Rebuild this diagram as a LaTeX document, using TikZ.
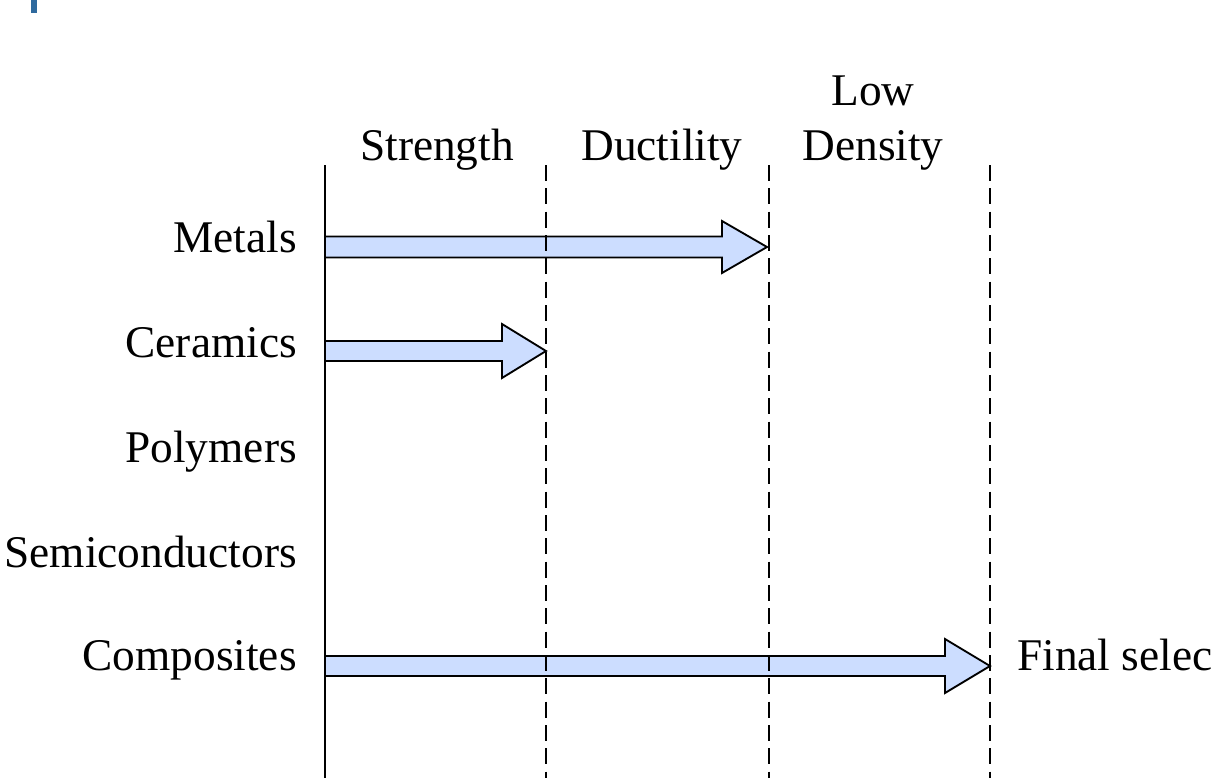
\documentclass[tikz,border=0pt]{standalone}
\usepackage{fontspec}
\setmainfont{Liberation Serif}
\definecolor{arrowfill}{HTML}{CCDDFF}
\definecolor{markblue}{HTML}{2F6A9E}
\tikzset{
  lbl/.style={inner sep=0pt, font=\fontsize{34}{40}\selectfont},
  rowlbl/.style={lbl, anchor=base east},
  hdr/.style={lbl, anchor=base},
  axis/.style={line width=1.5pt},
  divider/.style={line width=1.5pt, dash pattern=on 12pt off 5.5pt},
  blockarrow/.style={draw=black, line width=1.4pt, fill=arrowfill, line join=miter}
}
\begin{document}
\begin{tikzpicture}[x=0.75pt, y=-0.75pt]
\useasboundingbox (0,0) rectangle (1213,778);
% top-left mark
\fill[markblue] (31,0) rectangle (37,13);
% vertical lines
\coordinate (a0) at (325,165); \coordinate (a1) at (325,778);
\coordinate (d1a) at (546,165); \coordinate (d1b) at (546,778);
\coordinate (d2a) at (769,165); \coordinate (d2b) at (769,778);
\coordinate (d3a) at (990,165); \coordinate (d3b) at (990,778);
% arrows (drawn below the lines)
\draw[blockarrow] (325,236.5) -- (722,236.5) -- (722,221) -- (767,247) -- (722,273) -- (722,257.5) -- (325,257.5) -- cycle;
\draw[blockarrow] (325,341) -- (502,341) -- (502,324) -- (546,351) -- (502,378) -- (502,361) -- (325,361) -- cycle;
\draw[blockarrow] (325,656) -- (945,656) -- (945,639) -- (990,666) -- (945,693) -- (945,676) -- (325,676) -- cycle;
\draw[axis] (a0) -- (a1);
\draw[divider] (d1a) -- (d1b);
\draw[divider] (d2a) -- (d2b);
\draw[divider] (d3a) -- (d3b);
% headers
\node[hdr] (strength) at (437,160) {Strength};
\node[hdr] (ductility) at (662,160) {Ductility};
\node[hdr] (low) at (873,105) {Low};
\node[hdr] (density) at (873,160) {Density};
% row labels
\node[rowlbl] (metals) at (297,252) {Metals};
\node[rowlbl] (ceramics) at (297,357) {Ceramics};
\node[rowlbl] (polymers) at (297,462) {Polymers};
\node[rowlbl] (semi) at (297,567) {Semiconductors};
\node[rowlbl] (comp) at (297,670) {Composites};
\node[lbl, anchor=base west] (final) at (1017,670) {Final selec};
\end{tikzpicture}
\end{document}
